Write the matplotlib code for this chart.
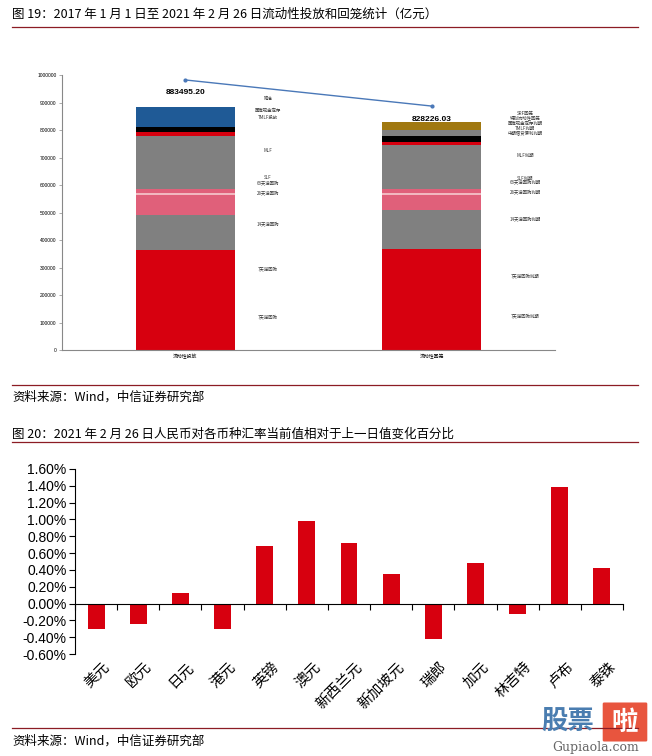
import numpy as np
import matplotlib.pyplot as plt
from matplotlib.lines import Line2D
from matplotlib.patches import FancyBboxPatch

plt.rcParams['font.family'] = ['Noto Sans CJK SC', 'DejaVu Sans']

# 图19 数据（亿元）
bar_names = ['流动性投放', '流动性回笼']
totals = [883495.20, 828226.03]

# 投放：自下而上
in_values = [364000, 127000, 72600, 6000, 15000, 193000, 15600, 18000, 72295.2]
in_colors = ['#D7000F', '#808080', '#E0607A', '#F2B8C0', '#E0607A', '#808080', '#D7000F', '#000000', '#1F5A96']
# 回笼：自下而上
out_values = [367000, 142000, 54600, 8400, 12400, 160600, 10000, 22000, 22000, 29226.03]
out_colors = ['#D7000F', '#808080', '#E0607A', '#F2B8C0', '#E0607A', '#808080', '#D7000F', '#000000', '#808080', '#A07810']

in_labels = ['降准', '国库现金定存', 'TMLF投放', 'MLF', 'SLF', '63天逆回购', '28天逆回购', '14天逆回购', '7天逆回购', '7天逆回购']
in_label_y = [916000, 873000, 844000, 727000, 629000, 604000, 567000, 455000, 291000, 116000]
out_labels = ['SRF回笼', '特别流动性回笼', '国库现金定存到期', 'TMLF到期', '中期借贷便利到期', 'MLF到期', 'SLF到期',
              '63天逆回购到期', '28天逆回购到期', '14天逆回购到期', '7天逆回购到期', '7天逆回购到期']
out_label_y = [862000, 843000, 825000, 807000, 789000, 709000, 625000, 607000, 571000, 473000, 265000, 120000]

line_values = [982000, 887000]
total_label_y = [938000, 840000]

# 图20 数据（%）
currencies = ['美元', '欧元', '日元', '港元', '英镑', '澳元', '新西兰元', '新加坡元', '瑞郎', '加元', '林吉特', '卢布', '泰铢']
changes = [-0.30, -0.24, 0.12, -0.30, 0.69, 0.98, 0.72, 0.35, -0.42, 0.48, -0.12, 1.39, 0.42]

W, H = 652, 756
fig = plt.figure(figsize=(W / 100, H / 100), dpi=100)


def fy(py):
    return 1 - py / H


def hline(py, color='#8C1C24'):
    fig.add_artist(Line2D([12 / W, 638 / W], [fy(py), fy(py)], color=color, lw=0.9))


# 标题与来源
fig.text(12 / W, fy(14), '图 19：2017 年 1 月 1 日至 2021 年 2 月 26 日流动性投放和回笼统计（亿元）',
         fontsize=9, va='center', ha='left')
hline(27)
hline(385)
fig.text(12 / W, fy(397), '资料来源：Wind，中信证券研究部', fontsize=9, va='center', ha='left')
fig.text(12 / W, fy(434), '图 20：2021 年 2 月 26 日人民币对各币种汇率当前值相对于上一日值变化百分比',
         fontsize=9, va='center', ha='left')
hline(442)
hline(728)
fig.text(12 / W, fy(741), '资料来源：Wind，中信证券研究部', fontsize=9, va='center', ha='left')

# ---- 图19 ----
ax1 = fig.add_axes([62 / W, fy(350), (555 - 62) / W, (350 - 75) / H])
x = np.arange(2)
bottom = 0
for v, c in zip(in_values, in_colors):
    ax1.bar(0, v, bottom=bottom, width=0.4, color=c, linewidth=0)
    bottom += v
bottom = 0
for v, c in zip(out_values, out_colors):
    ax1.bar(1, v, bottom=bottom, width=0.4, color=c, linewidth=0)
    bottom += v

ax1.plot(x, line_values, color='#4A78B8', lw=1, marker='o', ms=2)
for i in range(2):
    ax1.text(x[i], total_label_y[i], f'{totals[i]:.2f}', ha='center', va='center',
             fontsize=6, fontweight='bold', family=['Liberation Sans'])

for lab, yv in zip(in_labels, in_label_y):
    ax1.text(0.335, yv, lab, ha='center', va='center', fontsize=3.2, color='#333333')
for lab, yv in zip(out_labels, out_label_y):
    ax1.text(1.38, yv, lab, ha='center', va='center', fontsize=3.2, color='#333333')

ax1.set_xlim(-0.5, 1.5)
ax1.set_ylim(0, 1000000)
ax1.set_yticks(np.arange(0, 1000001, 100000))
ax1.set_yticklabels([str(v) for v in range(0, 1000001, 100000)], fontsize=3.5, family=['Liberation Sans'])
ax1.set_xticks(x)
ax1.set_xticklabels(bar_names, fontsize=3.5)
ax1.tick_params(axis='y', length=2, width=0.5, color='#888888', pad=2)
ax1.tick_params(axis='x', length=0, pad=3)
for s in ['top', 'right']:
    ax1.spines[s].set_visible(False)
for s in ['left', 'bottom']:
    ax1.spines[s].set_color('#888888')
    ax1.spines[s].set_linewidth(0.8)

# ---- 图20 ----
ax2 = fig.add_axes([75 / W, fy(654), (623 - 75) / W, (654 - 469) / H])
xi = np.arange(len(currencies))
ax2.bar(xi, changes, width=0.4, color='#D7000F')
ax2.set_xlim(-0.5, len(currencies) - 0.5)
ax2.set_ylim(-0.6, 1.6)
yt = np.arange(-0.6, 1.61, 0.2)
ax2.set_yticks(yt)
ax2.set_yticklabels([f'{v:.2f}%' for v in yt], fontsize=10, family=['Liberation Sans'])
ax2.spines['bottom'].set_position(('data', 0))
for s in ['top', 'right']:
    ax2.spines[s].set_visible(False)
ax2.set_xticks(np.arange(-0.5, len(currencies), 1))
ax2.set_xticklabels([])
ax2.tick_params(axis='x', direction='out', length=4, width=0.8)
ax2.tick_params(axis='y', direction='out', length=4, width=0.8, pad=2)
for i, name in enumerate(currencies):
    ax2.text(i + 0.15, -0.03, name, transform=ax2.get_xaxis_transform(), rotation=45,
             ha='right', va='top', rotation_mode='anchor', fontsize=10.5)

# 水印
fig.text(541 / W, fy(722), '股票', fontsize=19, fontweight='bold', color='#4A7DB0', va='center', ha='left')
fig.add_artist(FancyBboxPatch((604 / W, fy(740)), 42 / W, 36 / H, boxstyle='round,pad=0.002',
                              transform=fig.transFigure, color='#E8553E', lw=0))
fig.text(625 / W, fy(722), '啦', fontsize=19, fontweight='bold', color='white', va='center', ha='center')
fig.text(596 / W, fy(747), 'Gupiaola.com', fontsize=9, color='#666666', va='center', ha='center',
         family=['DejaVu Serif'])

fig.savefig('out.png', dpi=100)
